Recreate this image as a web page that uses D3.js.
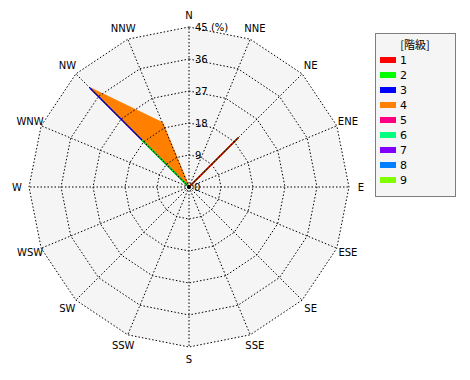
<!DOCTYPE html>
<html lang="ja">
<head>
<meta charset="UTF-8">
<title>Wind rose</title>
<script src="https://d3js.org/d3.v7.min.js"></script>
<style>
  body { margin: 0; background: #fff; }
  text { font-family: "DejaVu Sans", sans-serif; font-size: 10px; fill: #000; }
</style>
</head>
<body>
<svg id="chart" width="470" height="380"></svg>
<script>
// 16 directions, clockwise from north
const directions = ["N","NNE","NE","ENE","E","ESE","SE","SSE","S","SSW","SW","WSW","W","WNW","NW","NNW"];
const classes = ["1","2","3","4","5","6","7","8","9"];
const colors = ["#ff0000","#00ff00","#0000ff","#ff8000","#ff0080","#00ff80","#8000ff","#0080ff","#80ff00"];
const ticks = [9, 18, 27, 36, 45];

// frequency (%) per class, per direction
const class1 = [0,0,19.7,0,0,0,0,0,0,0,0,0,0,0,0,0];
const class2 = [0,0,0,0,0,0,0,0,0,0,0,0,0,0,18.7,0];
const class3 = [0,0,0,0,0,0,0,0,0,0,0,0,0,0,20.7,0];
const class4 = [0,0,0,0,0,0,0,0,0,0,0,0,0,0,0,19.5];
const class5 = [0,0,0,0,0,0,0,0,0,0,0,0,0,0,0,0];
const class6 = [0,0,0,0,0,0,0,0,0,0,0,0,0,0,0,0];
const class7 = [0,0,0,0,0,0,0,0,0,0,0,0,0,0,0,0];
const class8 = [0,0,0,0,0,0,0,0,0,0,0,0,0,0,0,0];
const class9 = [0,0,0,0,0,0,0,0,0,0,0,0,0,0,0,0];
const series = [class1, class2, class3, class4, class5, class6, class7, class8, class9];

const cx = 189, cy = 187, R = 160;
const svg = d3.select("#chart");
const g = svg.append("g").attr("transform", `translate(${cx},${cy})`);

const r = d3.scaleLinear().domain([0, 45]).range([0, R]);
const angle = d3.scaleLinear().domain([0, 16]).range([0, 2 * Math.PI]);

const ring = d3.lineRadial().curve(d3.curveLinearClosed)
  .angle((d, i) => angle(i)).radius(d => r(d));

// plot background
g.append("path").attr("d", ring(directions.map(() => 45)))
  .attr("fill", "#f5f5f5").attr("stroke", "none");

// cumulative values, drawn from outermost class to innermost
const cum = [];
series.forEach((s, k) => {
  cum.push(s.map((v, i) => v + (k > 0 ? cum[k - 1][i] : 0)));
});
for (let k = series.length - 1; k >= 0; k--) {
  if (d3.max(series[k]) === 0) continue;
  g.append("path").attr("d", ring(cum[k]))
    .attr("fill", colors[k]).attr("stroke", colors[k]).attr("stroke-width", 1.5)
    .attr("stroke-linejoin", "bevel");
}

// grid rings
ticks.forEach(t => {
  g.append("path").attr("d", ring(directions.map(() => t)))
    .attr("fill", "none").attr("stroke", "#000").attr("stroke-dasharray", "1.5,2");
});
// spokes
directions.forEach((d, i) => {
  const a = angle(i);
  g.append("line")
    .attr("x1", 0).attr("y1", 0)
    .attr("x2", R * Math.sin(a)).attr("y2", -R * Math.cos(a))
    .attr("stroke", "#000").attr("stroke-dasharray", "1.5,2");
});

// direction labels
directions.forEach((d, i) => {
  const a = angle(i);
  g.append("text")
    .attr("x", 172 * Math.sin(a)).attr("y", -172 * Math.cos(a))
    .attr("text-anchor", "middle").attr("dominant-baseline", "central")
    .text(d);
});

// tick labels
g.append("text").attr("x", 5).attr("y", 0).attr("dominant-baseline", "central").text("0");
ticks.forEach(t => {
  g.append("text").attr("x", 6).attr("y", -r(t)).attr("dominant-baseline", "central")
    .text(t === 45 ? "45 (%)" : t);
});
g.append("circle").attr("r", 2).attr("fill", "#000");

// legend
const lg = svg.append("g").attr("transform", "translate(375,33)");
lg.append("rect").attr("x", 0.5).attr("y", 0.5).attr("width", 80).attr("height", 163)
  .attr("fill", "#f5f5f5").attr("stroke", "#000").attr("stroke-dasharray", "1,1");
lg.append("text").attr("x", 40).attr("y", 11).attr("text-anchor", "middle")
  .attr("dominant-baseline", "central")
  .style("font-family", "'Noto Sans CJK JP', sans-serif").style("font-size", "11px")
  .text("[階級]");
classes.forEach((c, i) => {
  const y = 27 + i * 15;
  lg.append("rect").attr("x", 5).attr("y", y - 3).attr("width", 16).attr("height", 6)
    .attr("fill", colors[i]);
  lg.append("text").attr("x", 25).attr("y", y).attr("dominant-baseline", "central")
    .style("font-size", "11px").text(c);
});
</script>
</body>
</html>
